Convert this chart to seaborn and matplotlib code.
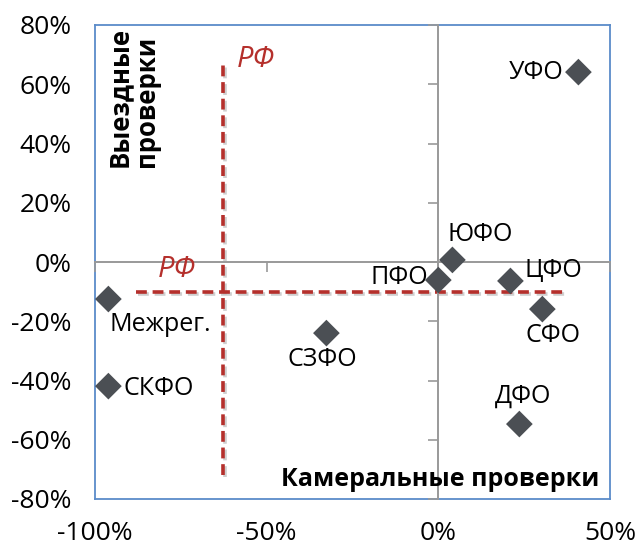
import matplotlib
matplotlib.use("Agg")
import matplotlib.pyplot as plt
import seaborn as sns
import pandas as pd
import matplotlib.patheffects as pe

regions = ["УФО", "ЮФО", "ПФО", "ЦФО", "СФО", "ДФО", "СЗФО", "Межрег.", "СКФО"]
kameral = [40.8, 4.1, 0.0, 21.0, 30.3, 23.6, -32.6, -96.1, -96.1]
vyezd = [64.1, 0.7, -6.1, -6.4, -15.9, -54.7, -24.0, -12.5, -41.9]
rf_x = -62.6
rf_y = -10.1
xticks = [-100, -50, 0, 50]
yticks = [-80, -60, -40, -20, 0, 20, 40, 60, 80]

df = pd.DataFrame({"region": regions, "x": kameral, "y": vyezd})

sns.set_theme(style="white")
plt.rcParams["font.family"] = ["Open Sans", "DejaVu Sans"]

fig = plt.figure(figsize=(6.38, 5.4), dpi=100)
rect = [95 / 638, 41 / 540, 515 / 638, 474 / 540]

# frame axes with tick labels
axf = fig.add_axes(rect, zorder=0)
axf.set_xlim(-100, 50)
axf.set_ylim(-80, 80)
axf.set_xticks(xticks)
axf.set_yticks(yticks)
axf.set_xticklabels([f"{t}%" for t in xticks], fontsize=19, color="black")
axf.set_yticklabels([f"{t}%" for t in yticks], fontsize=19, color="black")
axf.tick_params(axis="y", length=0, pad=17)
axf.tick_params(axis="x", length=0, pad=16)
for s in axf.spines.values():
    s.set_color("#5B8BC9")
    s.set_linewidth(1.3)
    s.set_visible(True)

# main axes with zero-crossing axis lines
ax = fig.add_axes(rect, zorder=1)
ax.patch.set_alpha(0)
ax.set_xlim(-100, 50)
ax.set_ylim(-80, 80)
ax.set_xticks(xticks)
ax.set_yticks(yticks)
ax.spines["left"].set_position(("data", 0))
ax.spines["bottom"].set_position(("data", 0))
ax.spines["top"].set_visible(False)
ax.spines["right"].set_visible(False)
for k in ["left", "bottom"]:
    ax.spines[k].set_color("#999999")
    ax.spines[k].set_linewidth(1.4)
ax.tick_params(axis="both", direction="out", length=7, width=1.2, color="#999999",
               labelleft=False, labelbottom=False, left=True, bottom=True)

shadow = [pe.SimpleLineShadow(offset=(1.5, -1.5), shadow_color="#888888", alpha=0.4), pe.Normal()]
red = "#B5302C"
ax.plot([rf_x, rf_x], [-72, 67], color=red, lw=2.6, linestyle=(0, (3.0, 1.6)),
        path_effects=shadow, zorder=2)
ax.plot([-88, 36.4], [rf_y, rf_y], color=red, lw=2.6, linestyle=(0, (3.0, 1.6)),
        path_effects=shadow, zorder=2)

sns.scatterplot(data=df, x="x", y="y", marker="D", s=185, color="#4B4F54",
                edgecolor="none", ax=ax, zorder=3, legend=False)
ax.set_xlabel("")
ax.set_ylabel("")

offsets = {
    "УФО": (-15, 0, "right", "center"),
    "ЮФО": (-5, 13, "left", "bottom"),
    "ПФО": (-10, 3, "right", "center"),
    "ЦФО": (14, 10, "left", "center"),
    "СФО": (11, -14, "center", "top"),
    "ДФО": (4, 15, "center", "bottom"),
    "СЗФО": (-4, -14, "center", "top"),
    "Межрег.": (1, -13, "left", "top"),
    "СКФО": (15, -2, "left", "center"),
}
for r, x, y in zip(regions, kameral, vyezd):
    dx, dy, ha, va = offsets[r]
    ax.annotate(r, (x, y), xytext=(dx, dy), textcoords="offset pixels",
                ha=ha, va=va, fontsize=18, color="black")

ax.annotate("РФ", (rf_x, 67), xytext=(13, 4), textcoords="offset pixels",
            ha="left", va="center", fontsize=21, color=red, style="italic")
ax.annotate("РФ", (-88, rf_y), xytext=(22, 22), textcoords="offset pixels",
            ha="left", va="center", fontsize=21, color=red, style="italic")

ax.text(0.022, 0.995, "Выездные\nпроверки", transform=ax.transAxes, rotation=90,
        ha="left", va="top", fontsize=18.5, fontweight="bold", linespacing=1.0,
        color="black")
ax.text(0.98, 0.015, "Камеральные проверки", transform=ax.transAxes,
        ha="right", va="bottom", fontsize=18, fontweight="bold", color="black")

fig.savefig("out.png", dpi=100)
